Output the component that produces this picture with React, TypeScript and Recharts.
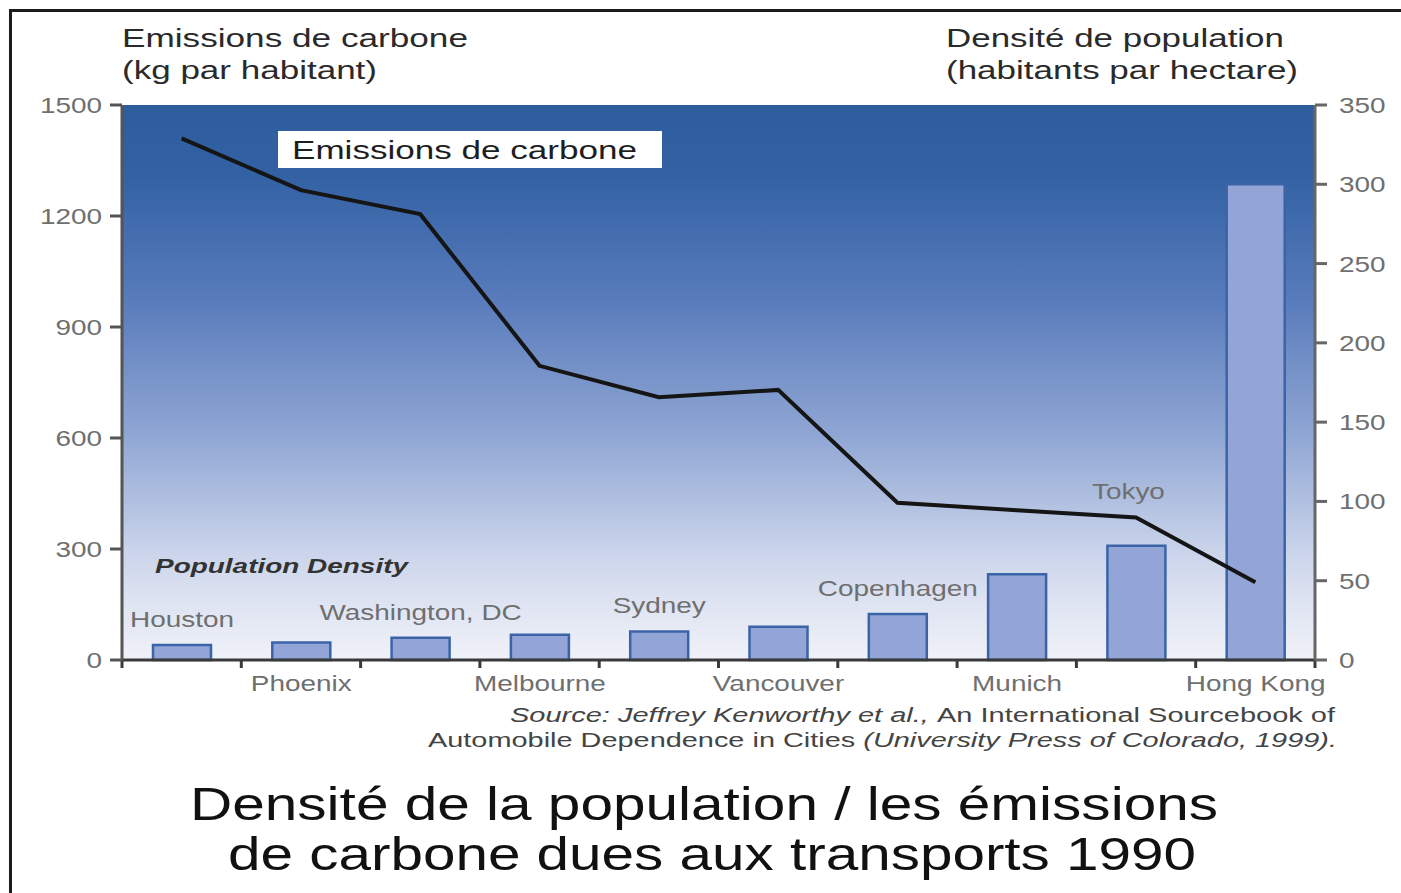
import {
  Bar,
  ComposedChart,
  LabelList,
  Line,
  ReferenceArea,
  XAxis,
  YAxis,
} from "recharts";

const CITIES = [
  "Houston",
  "Phoenix",
  "Washington, DC",
  "Melbourne",
  "Sydney",
  "Vancouver",
  "Copenhagen",
  "Munich",
  "Tokyo",
  "Hong Kong",
];
// kg de carbone par habitant (axe gauche)
const EMISSIONS = [1410, 1270, 1205, 795, 710, 730, 425, 405, 385, 210];
// habitants par hectare (axe droit)
const DENSITY = [9.5, 11, 14, 16, 18, 21, 29, 54, 72, 300];
const LEFT_TICKS = [0, 300, 600, 900, 1200, 1500];
const RIGHT_TICKS = [0, 50, 100, 150, 200, 250, 300, 350];

const FONT = '"Liberation Sans", Arial, Helvetica, sans-serif';
const SX = 1.27; // the scan is stretched horizontally
const TICK_GREY = "#6f6f6f";
const AXIS_DARK = "#3a3a3a";

const data = CITIES.map((city, i) => ({
  city,
  pos: i + 0.5,
  emissions: EMISSIONS[i],
  density: DENSITY[i],
}));
const bounds = [...CITIES.map((_, i) => i), CITIES.length];

function StretchText({ x, y, anchor, size, fill, children }: any) {
  return (
    <text
      transform={`translate(${x} ${y}) scale(${SX} 1)`}
      textAnchor={anchor}
      fontFamily={FONT}
      fontSize={size}
      fill={fill}
    >
      {children}
    </text>
  );
}

function LeftTick({ x, y, payload }: any) {
  return (
    <StretchText x={x - 6} y={y + 8} anchor="end" size={22} fill={TICK_GREY}>
      {payload.value}
    </StretchText>
  );
}

function RightTick({ x, y, payload }: any) {
  return (
    <StretchText x={x + 10} y={y + 8} anchor="start" size={22} fill={TICK_GREY}>
      {payload.value}
    </StretchText>
  );
}

function CityLabel(props: any) {
  const { x, y, width, height, index, value } = props;
  const cx = x + width / 2;
  if (index % 2 === 1) {
    return (
      <StretchText x={cx} y={y + height + 31} anchor="middle" size={22} fill={TICK_GREY}>
        {value}
      </StretchText>
    );
  }
  // Tokyo sits higher, next to the emissions line
  const lift = value === "Tokyo" ? 47 : 18;
  return (
    <StretchText x={cx - (value === "Tokyo" ? 8 : 0)} y={y - lift} anchor="middle" size={22} fill={TICK_GREY}>
      {value}
    </StretchText>
  );
}

export default function App() {
  return (
    <div style={{ position: "absolute", left: 0, top: 0, width: 1401, height: 893, background: "#fff" }}>
      <div
        style={{
          position: "absolute",
          left: 9,
          top: 9,
          width: 1392,
          height: 884,
          borderTop: "3px solid #1c1c1c",
          borderLeft: "3px solid #1c1c1c",
        }}
      />
      <div style={{ position: "absolute", left: 0, top: 0 }}>
        <ComposedChart
          width={1401}
          height={893}
          data={data}
          margin={{ top: 105, right: 16, bottom: 203, left: 62 }}
        >
          <defs>
            <linearGradient id="fond" x1="0" y1="0" x2="0" y2="1">
              <stop offset="0" stopColor="#2e5d9e" />
              <stop offset="0.13" stopColor="#3362a4" />
              <stop offset="0.35" stopColor="#587bbb" />
              <stop offset="0.6" stopColor="#91a7d4" />
              <stop offset="0.8" stopColor="#c9d3ea" />
              <stop offset="0.9" stopColor="#dfe4f2" />
              <stop offset="1" stopColor="#f0f2f8" />
            </linearGradient>
          </defs>
          <ReferenceArea
            yAxisId="left"
            x1={0}
            x2={10}
            y1={0}
            y2={1500}
            fill="url(#fond)"
            fillOpacity={1}
            stroke="none"
          />
          <XAxis
            type="number"
            dataKey="pos"
            domain={[0, 10]}
            ticks={bounds}
            tickFormatter={() => ""}
            tickSize={8}
            height={30}
            axisLine={{ stroke: AXIS_DARK, strokeWidth: 3 }}
            tickLine={{ stroke: AXIS_DARK, strokeWidth: 3 }}
          />
          <YAxis
            yAxisId="left"
            domain={[0, 1500]}
            ticks={LEFT_TICKS}
            width={60}
            tickSize={12}
            tick={<LeftTick />}
            axisLine={{ stroke: "#555", strokeWidth: 3 }}
            tickLine={{ stroke: "#555", strokeWidth: 3 }}
          />
          <YAxis
            yAxisId="right"
            orientation="right"
            domain={[0, 350]}
            ticks={RIGHT_TICKS}
            width={70}
            tickSize={12}
            tick={<RightTick />}
            axisLine={{ stroke: "#666", strokeWidth: 3 }}
            tickLine={{ stroke: "#666", strokeWidth: 3 }}
          />
          <Bar
            yAxisId="right"
            dataKey="density"
            barSize={58}
            fill="#92a5d6"
            stroke="#3b64a8"
            strokeWidth={2.5}
            isAnimationActive={false}
          >
            <LabelList dataKey="city" content={<CityLabel />} />
          </Bar>
          <Line
            yAxisId="left"
            type="linear"
            dataKey="emissions"
            stroke="#151515"
            strokeWidth={4}
            dot={false}
            activeDot={false}
            isAnimationActive={false}
          />
        </ComposedChart>
      </div>
      <svg
        width={1401}
        height={893}
        style={{ position: "absolute", left: 0, top: 0, pointerEvents: "none" }}
        fontFamily={FONT}
      >
        <text x={122} y={47} fontSize={26} fill="#2a2a2a" textLength={346} lengthAdjust="spacingAndGlyphs">
          Emissions de carbone
        </text>
        <text x={122} y={79} fontSize={26} fill="#2a2a2a" textLength={255} lengthAdjust="spacingAndGlyphs">
          (kg par habitant)
        </text>
        <text x={946} y={47} fontSize={26} fill="#2a2a2a" textLength={338} lengthAdjust="spacingAndGlyphs">
          Densité de population
        </text>
        <text x={946} y={79} fontSize={26} fill="#2a2a2a" textLength={352} lengthAdjust="spacingAndGlyphs">
          (habitants par hectare)
        </text>

        <rect x={278} y={131} width={384} height={37} fill="#fff" />
        <text x={292} y={159} fontSize={26} fill="#1e1e1e" textLength={345} lengthAdjust="spacingAndGlyphs">
          Emissions de carbone
        </text>

        <text
          x={155}
          y={573}
          fontSize={20}
          fontStyle="italic"
          fontWeight="bold"
          fill="#333"
          textLength={253}
          lengthAdjust="spacingAndGlyphs"
        >
          Population Density
        </text>

        <text x={510} y={722} fontSize={20} fill="#444" textLength={825} lengthAdjust="spacingAndGlyphs">
          <tspan fontStyle="italic">Source: Jeffrey Kenworthy et al., </tspan>
          <tspan>An International Sourcebook of</tspan>
        </text>
        <text x={428} y={747} fontSize={20} fill="#444" textLength={909} lengthAdjust="spacingAndGlyphs">
          <tspan>Automobile Dependence in Cities </tspan>
          <tspan fontStyle="italic">(University Press of Colorado, 1999).</tspan>
        </text>

        <text x={190} y={820} fontSize={46} fill="#111" textLength={1028} lengthAdjust="spacingAndGlyphs">
          Densité de la population / les émissions
        </text>
        <text x={228} y={870} fontSize={46} fill="#111" textLength={968} lengthAdjust="spacingAndGlyphs">
          de carbone dues aux transports 1990
        </text>
      </svg>
    </div>
  );
}
